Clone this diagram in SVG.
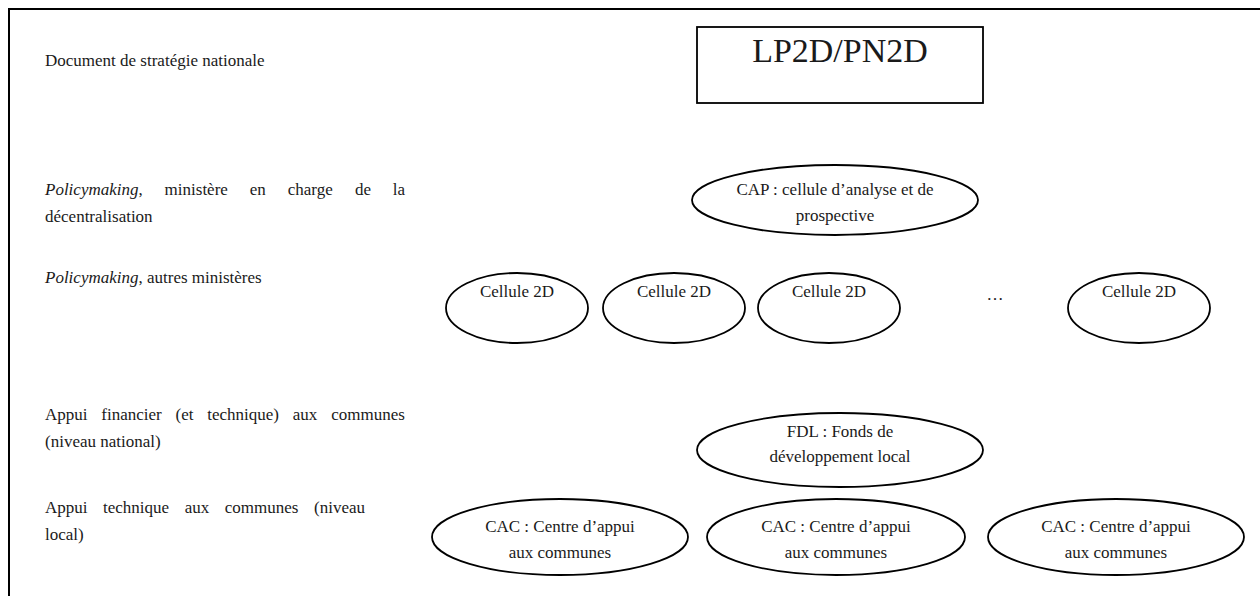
<svg xmlns="http://www.w3.org/2000/svg" width="1260" height="596" viewBox="0 0 1260 596">
<style>
text{font-family:"Liberation Serif","Times New Roman",serif;font-size:17px;fill:#1a1a1a}
.c{text-anchor:middle}
.shape{fill:#fff;stroke:#000;stroke-width:1.8}
.frame{fill:none;stroke:#000;stroke-width:2}
.it{font-style:italic}
</style>
<rect width="1260" height="596" fill="#fff"/>
<path class="frame" d="M9 596V9H1260"/>
<g id="labels">
<text x="45" y="66">Document de stratégie nationale</text>
<text y="195"><tspan x="45" class="it">Policymaking</tspan><tspan>,</tspan><tspan x="164.6">ministère</tspan><tspan x="249.8">en</tspan><tspan x="287.7">charge</tspan><tspan x="354.9">de</tspan><tspan x="392.7">la</tspan></text>
<text x="45" y="222">décentralisation</text>
<text x="45" y="283"><tspan class="it">Policymaking</tspan>, autres ministères</text>
<text y="420"><tspan x="45">Appui</tspan><tspan x="101.3">financier</tspan><tspan x="175.5">(et</tspan><tspan x="207.2">technique)</tspan><tspan x="292.8">aux</tspan><tspan x="331.3">communes</tspan></text>
<text x="45" y="447">(niveau national)</text>
<text y="513"><tspan x="45">Appui</tspan><tspan x="103">technique</tspan><tspan x="184.7">aux</tspan><tspan x="224.8">communes</tspan><tspan x="314">(niveau</tspan></text>
<text x="45" y="540">local)</text>
</g>
<g id="connectors"/>
<g id="lp2d">
<rect class="shape" x="697" y="27" width="286" height="76"/>
<text class="c" x="840" y="62" style="font-size:34px">LP2D/PN2D</text>
</g>
<g id="cap">
<ellipse class="shape" cx="835" cy="200" rx="143" ry="35"/>
<text class="c" x="835" y="195">CAP : cellule d’analyse et de</text>
<text class="c" x="835" y="221">prospective</text>
</g>
<g id="cellule1">
<ellipse class="shape" cx="517" cy="308" rx="71" ry="35"/>
<text class="c" x="517" y="297">Cellule 2D</text>
</g>
<g id="cellule2">
<ellipse class="shape" cx="674" cy="308" rx="71" ry="35"/>
<text class="c" x="674" y="297">Cellule 2D</text>
</g>
<g id="cellule3">
<ellipse class="shape" cx="829" cy="308" rx="71" ry="35"/>
<text class="c" x="829" y="297">Cellule 2D</text>
</g>
<g id="ellipsis">
<text class="c" x="995" y="300">…</text>
</g>
<g id="cellule4">
<ellipse class="shape" cx="1139" cy="308" rx="71" ry="35"/>
<text class="c" x="1139" y="297">Cellule 2D</text>
</g>
<g id="fdl">
<ellipse class="shape" cx="840" cy="450" rx="143" ry="37"/>
<text class="c" x="840" y="437">FDL : Fonds de</text>
<text class="c" x="840" y="462">développement local</text>
</g>
<g id="cac1">
<ellipse class="shape" cx="560" cy="537" rx="128" ry="38"/>
<text class="c" x="560" y="532">CAC : Centre d’appui</text>
<text class="c" x="560" y="558">aux communes</text>
</g>
<g id="cac2">
<ellipse class="shape" cx="836" cy="537" rx="129" ry="38"/>
<text class="c" x="836" y="532">CAC : Centre d’appui</text>
<text class="c" x="836" y="558">aux communes</text>
</g>
<g id="cac3">
<ellipse class="shape" cx="1116" cy="537" rx="128" ry="38"/>
<text class="c" x="1116" y="532">CAC : Centre d’appui</text>
<text class="c" x="1116" y="558">aux communes</text>
</g>
</svg>
